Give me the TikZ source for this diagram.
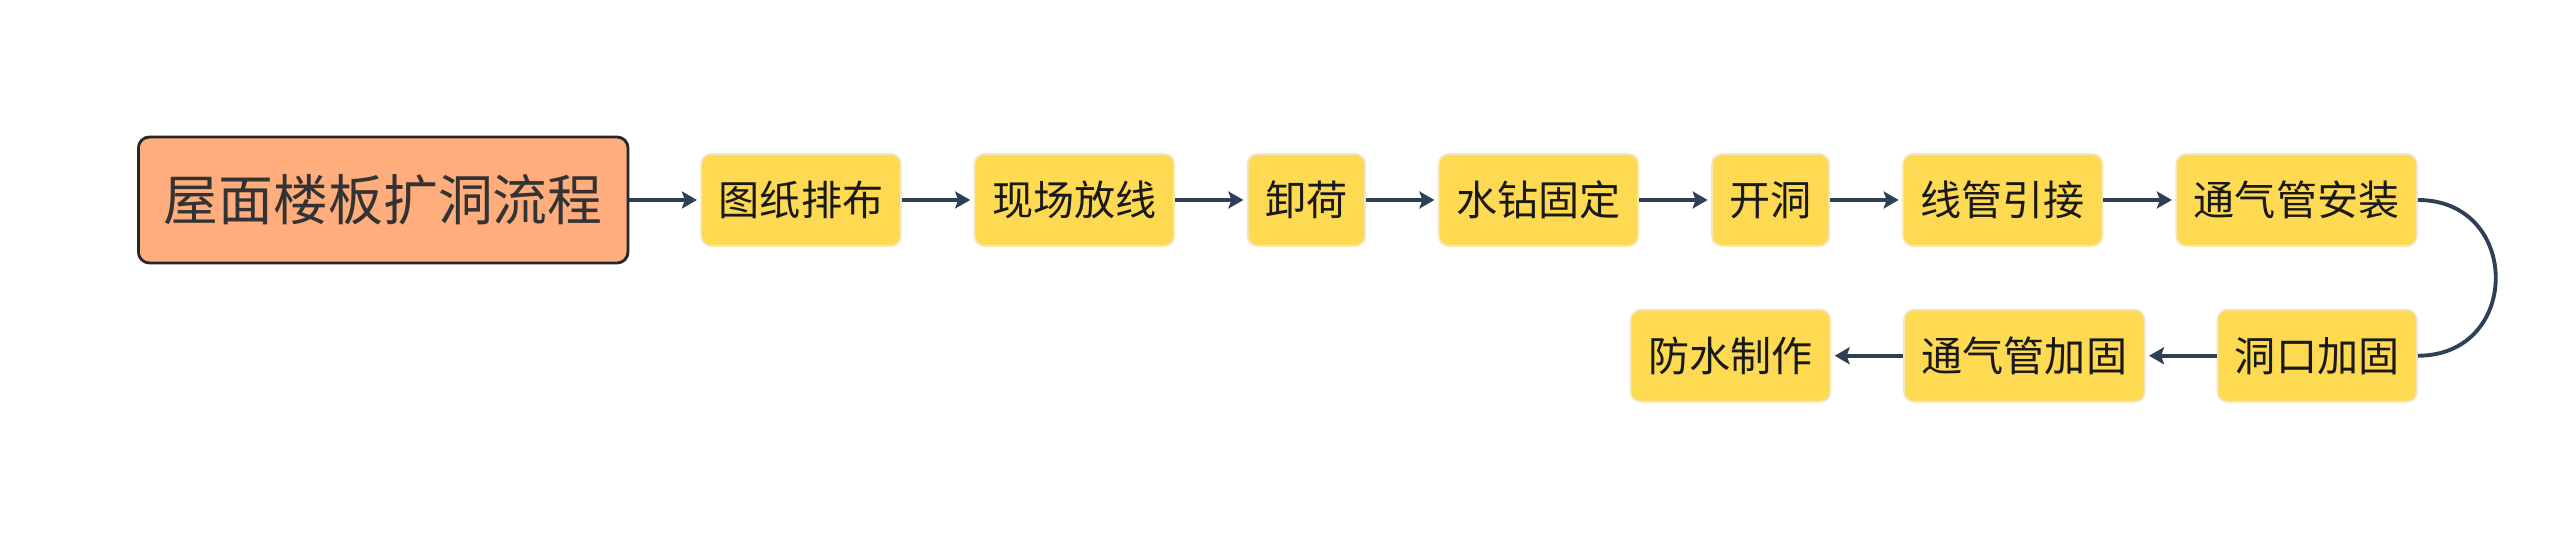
\documentclass[tikz,border=0pt]{standalone}
\usepackage{fontspec}
\newfontfamily\cjk{Noto Sans CJK SC}
\usepackage{xcolor}
\usepackage{tikz}
\usetikzlibrary{arrows.meta, positioning}

\definecolor{rootfill}{HTML}{FFAD7D}
\definecolor{stepfill}{HTML}{FDDA52}
\definecolor{stepline}{HTML}{F3E6BF}
\definecolor{linkcol}{HTML}{2E3F56}

\begin{document}
\begin{tikzpicture}[>={Stealth[length=0.15cm, width=0.17cm, inset=0.03cm]}, node distance=0.72cm,
            rootbox/.style={draw=black!85, line width=0.8pt, fill=rootfill, rounded corners=0.11cm,
                minimum height=1.26cm, inner xsep=0.255cm, font=\cjk\fontsize{15.6pt}{18pt}\selectfont, text=black!80},
            stepbox/.style={draw=stepline, line width=0.5pt, fill=stepfill, rounded corners=0.1cm,
                minimum height=0.92cm, inner xsep=0.175cm, font=\cjk\fontsize{11.7pt}{14pt}\selectfont, text=black!90},
            link/.style={->, draw=linkcol, line width=1.1pt, shorten >=1pt}]

            \useasboundingbox (0,0) rectangle (25.6,-5.41);

            \node[rootbox, anchor=west] (root) at (1.37,-2.00) {屋面楼板扩洞流程};
            \node[stepbox, right=0.71cm of root] (tzpb) {图纸排布};
            \node[stepbox, right=of tzpb] (xcfx) {现场放线};
            \node[stepbox, right=of xcfx] (xh) {卸荷};
            \node[stepbox, right=of xh] (szgd) {水钻固定};
            \node[stepbox, right=of szgd] (kdong) {开洞};
            \node[stepbox, right=of kdong] (xgyj) {线管引接};
            \node[stepbox, right=of xgyj] (tqaz) {通气管安装};
            \node[stepbox, anchor=north east] (dkjg) at ([yshift=-0.62cm]tqaz.south east) {洞口加固};
            \node[stepbox, left=0.71cm of dkjg] (tqjg) {通气管加固};
            \node[stepbox, left=of tqjg] (fszz) {防水制作};

            \draw[link] (root) -- (tzpb); \draw[link] (tzpb) -- (xcfx); \draw[link] (xcfx) -- (xh);
            \draw[link] (xh) -- (szgd); \draw[link] (szgd) -- (kdong); \draw[link] (kdong) -- (xgyj);
            \draw[link] (xgyj) -- (tqaz);
            \draw[draw=linkcol, line width=1.1pt] (tqaz.east) .. controls +(1.04,0) and +(1.04,0) .. (dkjg.east);
            \draw[link] (dkjg) -- (tqjg); \draw[link] (tqjg) -- (fszz);
        \end{tikzpicture}
\end{document}
